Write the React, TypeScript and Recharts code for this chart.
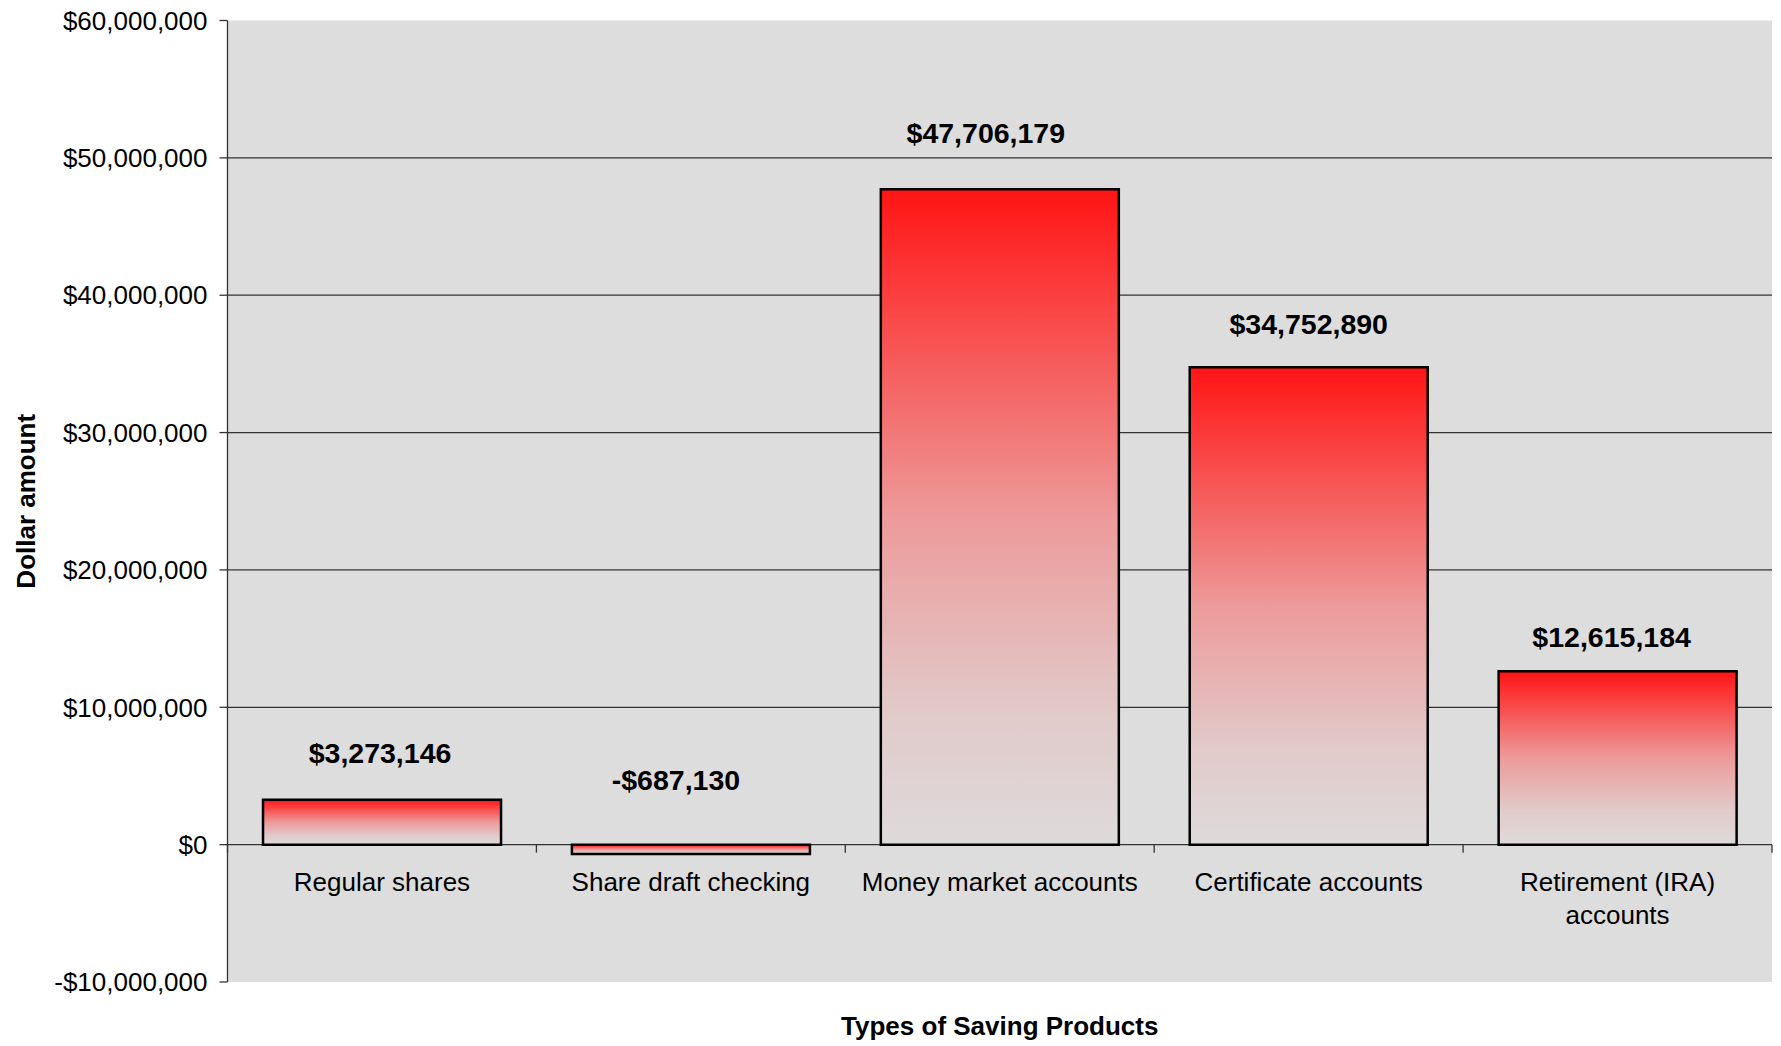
import React from "react";
import { BarChart, Bar, XAxis, YAxis, CartesianGrid, LabelList } from "recharts";

const CATEGORIES = [
  "Regular shares",
  "Share draft checking",
  "Money market accounts",
  "Certificate accounts",
  "Retirement (IRA) accounts",
];
const AMOUNTS = [3273146, -687130, 47706179, 34752890, 12615184];
const Y_TICKS = [-10000000, 0, 10000000, 20000000, 30000000, 40000000, 50000000, 60000000];
const GRID_VALUES = [0, 10000000, 20000000, 30000000, 40000000, 50000000];

// label nudges (px) to follow the hand-placed labels of the original
const LABEL_GAP = [37, 55, 46, 33, 24];
const LABEL_DX = [-2, -15, -14, 0, -6];

const W = 1781;
const H = 1046;
const TOP = 20.5;
const LEFT = 227.5;
const RIGHT = 9;
const XAXIS_H = 64;
const PLOT_W = W - LEFT - RIGHT;
const PLOT_H = H - TOP - XAXIS_H;
const Y_MIN = Y_TICKS[0];
const Y_MAX = Y_TICKS[Y_TICKS.length - 1];
const ZERO_Y = TOP + (PLOT_H * (Y_MAX - 0)) / (Y_MAX - Y_MIN);
const BAND = PLOT_W / CATEGORIES.length;

const FONT = '"Liberation Sans", Arial, Helvetica, sans-serif';

const data = CATEGORIES.map((name, i) => ({ name, value: AMOUNTS[i] }));

const money = (v: number) =>
  (v < 0 ? "-$" : "$") + Math.abs(v).toLocaleString("en-US");

const wrap = (s: string, max = 22) => {
  const lines: string[] = [];
  let cur = "";
  s.split(" ").forEach((w) => {
    if (cur && (cur + " " + w).length > max) {
      lines.push(cur);
      cur = w;
    } else cur = cur ? cur + " " + w : w;
  });
  if (cur) lines.push(cur);
  return lines;
};

const CategoryTick = (props: any) => {
  const { x, payload, index } = props;
  const lines = wrap(String(payload.value));
  const left = x - BAND / 2;
  return (
    <g>
      <line x1={left} x2={left} y1={ZERO_Y} y2={ZERO_Y + 8} stroke="#333" strokeWidth={1.3} />
      {index === CATEGORIES.length - 1 && (
        <line x1={left + BAND} x2={left + BAND} y1={ZERO_Y} y2={ZERO_Y + 8} stroke="#333" strokeWidth={1.3} />
      )}
      {lines.map((ln, i) => (
        <text
          key={i}
          x={x}
          y={ZERO_Y + 46 + i * 33}
          textAnchor="middle"
          fontSize={26}
          fontFamily={FONT}
          fill="#000"
        >
          {ln}
        </text>
      ))}
    </g>
  );
};

const ValueLabel = (props: any) => {
  const vb = props.viewBox || props;
  const { x, y, width, height } = vb;
  let idx = typeof props.index === "number" ? props.index : AMOUNTS.indexOf(Number(props.value));
  if (idx < 0) idx = 0;
  const top = Math.min(y, y + height);
  return (
    <text
      x={x + width / 2 + LABEL_DX[idx]}
      y={top - LABEL_GAP[idx]}
      textAnchor="middle"
      fontSize={28.5}
      fontWeight="bold"
      fontFamily={FONT}
      fill="#000"
    >
      {money(Number(props.value))}
    </text>
  );
};

export default function App() {
  return (
    <div style={{ position: "absolute", left: 0, top: 0, width: W, height: H, background: "#fff" }}>
      <BarChart
        width={W}
        height={H}
        data={data}
        margin={{ top: TOP, right: RIGHT, bottom: 0, left: 0 }}
        barCategoryGap="11.5%"
      >
        <defs>
          <linearGradient id="barFade" x1="0" y1="0" x2="0" y2="1">
            <stop offset="0%" stopColor="#ff1414" />
            <stop offset="15%" stopColor="#fb3c3c" />
            <stop offset="50%" stopColor="#ed9a9a" />
            <stop offset="80%" stopColor="#e1caca" />
            <stop offset="100%" stopColor="#dedada" />
          </linearGradient>
        </defs>
        <CartesianGrid
          vertical={false}
          horizontalValues={GRID_VALUES}
          stroke="#333"
          strokeWidth={1.3}
          fill="#dddddd"
          fillOpacity={1}
        />
        <XAxis
          dataKey="name"
          height={XAXIS_H}
          axisLine={false}
          tickLine={false}
          interval={0}
          tick={<CategoryTick />}
          label={{
            content: (p: any) => (
              <text
                x={p.viewBox.x + p.viewBox.width / 2}
                y={H - 11}
                textAnchor="middle"
                fontSize={26}
                fontWeight="bold"
                fontFamily={FONT}
                fill="#000"
              >
                Types of Saving Products
              </text>
            ),
          }}
        />
        <YAxis
          width={LEFT}
          domain={[Y_MIN, Y_MAX]}
          ticks={Y_TICKS}
          allowDataOverflow
          tickFormatter={money}
          tickSize={8}
          tickMargin={12}
          axisLine={{ stroke: "#333", strokeWidth: 1.3 }}
          tickLine={{ stroke: "#333", strokeWidth: 1.3 }}
          tick={{ fill: "#000", fontSize: 26, fontFamily: FONT }}
          label={{
            content: (p: any) => {
              const cy = p.viewBox.y + p.viewBox.height / 2;
              return (
                <text
                  x={35}
                  y={cy}
                  transform={`rotate(-90 35 ${cy})`}
                  textAnchor="middle"
                  fontSize={26}
                  fontWeight="bold"
                  fontFamily={FONT}
                  fill="#000"
                >
                  Dollar amount
                </text>
              );
            },
          }}
        />
        <Bar
          dataKey="value"
          fill="url(#barFade)"
          stroke="#000"
          strokeWidth={2.5}
          isAnimationActive={false}
        >
          <LabelList dataKey="value" content={<ValueLabel />} />
        </Bar>
      </BarChart>
    </div>
  );
}
